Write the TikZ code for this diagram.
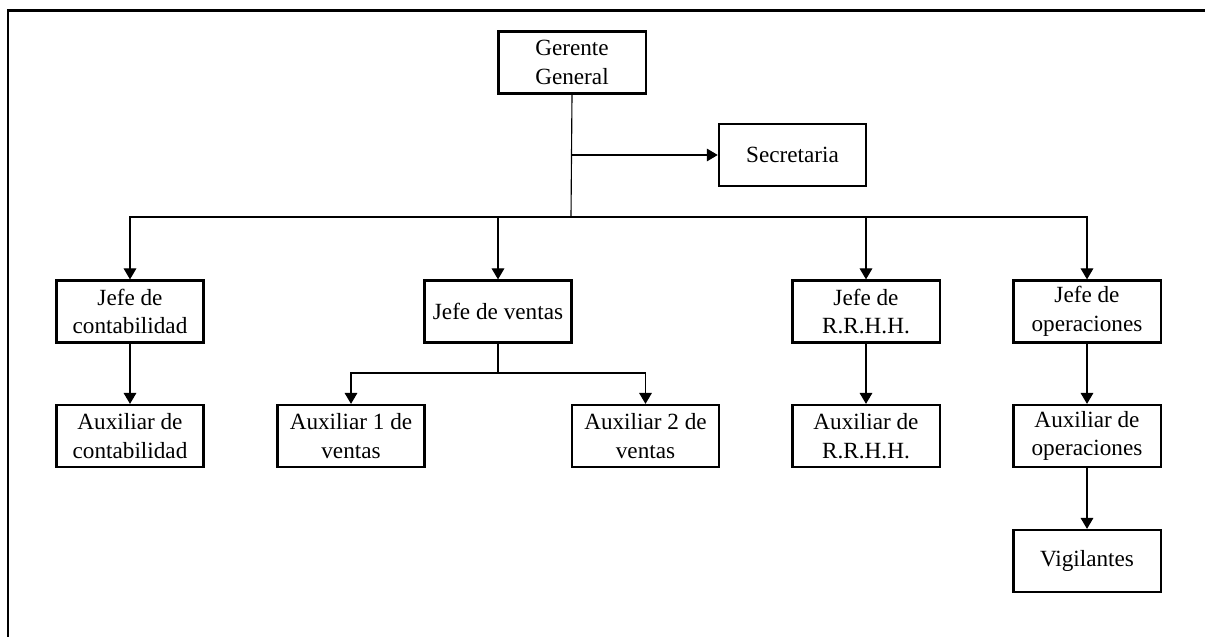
\documentclass[tikz,border=0pt]{standalone}
\usepackage{fontspec}
\setmainfont{Liberation Serif}
\usetikzlibrary{arrows.meta,positioning}

\begin{document}
\begin{tikzpicture}[x=0.025cm, y=-0.025cm,
  box/.style={draw, line width=1.6pt, minimum width=3.68cm, minimum height=1.55cm,
    inner sep=0pt, align=center, font=\fontsize{16.5}{20.5}\selectfont},
  link/.style={line width=0.8pt},
  arr/.style={link, -{Triangle[length=7.8pt,width=9pt]}}]
\useasboundingbox (0,0) rectangle (1205,637);

% Frame (top and left edges)
\draw[line width=1.7pt] (1205,10.5) -- (8,10.5) -- (8,637);

% Top level
\node[box] (gg) at (572,62.5) {Gerente\\General};
\node[box] (sec) at (792.5,155) {Secretaria};

% Department heads
\node[box] (jc) at (130,311.5) {Jefe de\\contabilidad};
\node[box] (jv) at (498,311.5) {Jefe de ventas};
\node[box] (jr) at (866,311.5) {Jefe de\\R.R.H.H.};
\node[box] (jo) at (1087,311.5) {Jefe de\\operaciones};

% Assistants
\node[box] (ac) at (130,436) {Auxiliar de\\contabilidad};
\node[box] (a1) at (351,436) {Auxiliar 1 de\\ventas};
\node[box] (a2) at (645.5,436) {Auxiliar 2 de\\ventas};
\node[box] (ar) at (866,436) {Auxiliar de\\R.R.H.H.};
\node[box] (ao) at (1087,436) {Auxiliar de\\operaciones};
\node[box] (vg) at (1087,561) {Vigilantes};

% Main branch
\coordinate (bus) at (571,217);
\draw[link] (gg.south) -- (bus);
\draw[arr] (gg.south |- sec.west) -- (sec.west);
\draw[arr] (bus) -| (jc.north);
\draw[arr] (bus) -| (jv.north);
\draw[arr] (bus) -| (jr.north);
\draw[arr] (bus) -| (jo.north);

% Sales branch
\coordinate (vb) at (498,373);
\draw[link] (jv.south) -- (vb);
\draw[arr] (vb) -| (a1.north);
\draw[arr] (vb) -| (a2.north);

% Single lines down
\draw[arr] (jc) -- (ac);
\draw[arr] (jr) -- (ar);
\draw[arr] (jo) -- (ao);
\draw[arr] (ao) -- (vg);
\end{tikzpicture}
\end{document}
